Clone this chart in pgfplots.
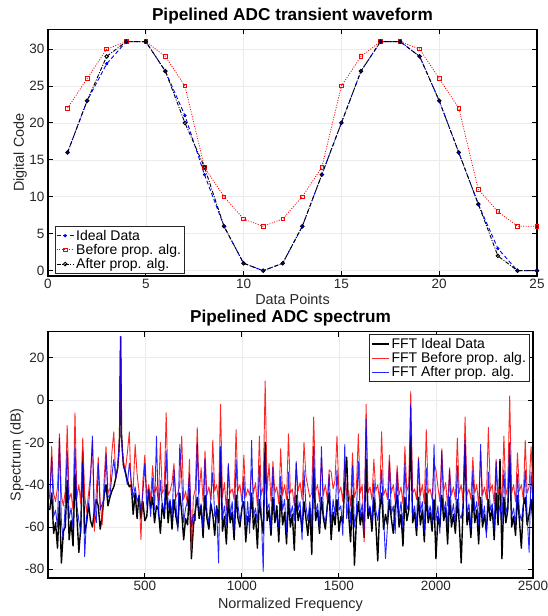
\documentclass[border=0pt]{standalone}
\usepackage{fontspec}
\setmainfont{Liberation Sans}
\usepackage{pgfplots}
\pgfplotsset{compat=1.18}
\usepackage{pgfplotstable}

\definecolor{axgray}{RGB}{38,38,38}

% transient waveform, 25 samples
\pgfplotstableread{
n ideal before after
1 16 22 16
2 23 26 23
3 28 30 29
4 31 31 31
5 31 31 31
6 27 29 27
7 21 25 20
8 13 14 14
9 6 10 6
10 1 7 1
11 0 6 0
12 1 7 1
13 6 10 6
14 13 14 13
15 20 25 20
16 27 29 27
17 31 31 31
18 31 31 31
19 29 30 29
20 23 26 23
21 16 22 16
22 9 11 9
23 3 8 2
24 0 6 0
25 0 6 0
}\wave

% spectrum (dB) at a coarse step
\pgfplotstableread{
x k r b
10 -52 -46 -47
20 -44 -22 -27
30 -63 -44 -55
40 -58 -48 -52
50 -70 -41 -60
60 -48 -16 -18
70 -77 -45 -58
80 -62 -50 -66
90 -60 -43 -49
100 -38 -12 -24
110 -66 -47 -56
120 -57 -44 -51
130 -69 -52 -61
140 -35 -6 -22
150 -55 -46 -50
160 -72 -40 -57
170 -60 -49 -63
180 -24 -18 -30
190 -63 -45 -74
200 -58 -53 -55
210 -49 -44 -50
220 -57 -35 -38
230 -60 -19 -17
240 -52 -62 -53
250 -47 -43 -58
260 -50 -27 -30
270 -61 -48 -52
280 -55 -59 -49
290 -45 -38 -47
300 -40 -22 -26
310 -50 -44 -46
320 -46 -42 -45
330 -43 -25 -36
340 -41 -15 -28
350 -37 -37 -37
360 -32 -32 -32
365 -26 -26 -26
370 -17 -17 -17
375 30 30 30
380 -17 -17 -17
385 -25 -25 -25
390 -31 -29 -31
400 -34 -33 -35
410 -38 -25 -40
420 -41 -15 -30
430 -40 -44 -38
440 -54 -42 -46
450 -44 -21 -41
460 -56 -35 -48
470 -45 -43 -45
480 -56 -66 -52
490 -48 -38 -44
500 -57 -26 -30
510 -55 -45 -50
520 -42 -40 -43
530 -51 -47 -55
540 -46 -31 -37
550 -58 -44 -52
560 -50 -41 -17
570 -52 -48 -55
580 -63 -20 -38
590 -49 -44 -50
600 -56 -42 -53
610 -40 -6 -24
620 -58 -45 -51
630 -48 -43 -47
640 -61 -39 -55
650 -47 -30 -33
660 -55 -46 -49
670 -60 -44 -62
680 -44 -40 -21
690 -53 -17 -37
700 -66 -47 -58
710 -56 -43 -51
720 -59 -50 -48
730 -42 -28 -35
740 -75 -71 -60
750 -60 -46 -54
760 -52 -42 -57
770 -46 -13 -20
780 -56 -44 -53
790 -50 -32 -49
800 -65 -48 -61
810 -45 -24 -28
820 -56 -45 -53
830 -61 -41 -58
840 -49 -47 -47
850 -54 -19 -34
860 -64 -43 -55
870 -50 -40 -51
880 -58 -49 -77
890 -24 -2 -22
900 -62 -46 -56
910 -55 -39 -50
920 -68 -52 -59
930 -47 -31 -30
940 -58 -44 -55
950 -53 -42 -48
960 -66 -47 -62
970 -45 -14 -28
980 -56 -43 -50
990 -60 -40 -57
1000 -51 -48 -52
1010 -48 -26 -36
1020 -67 -46 -60
1030 -55 -42 -48
1040 -58 -45 -63
1050 -44 -33 -19
1060 -61 -44 -55
1070 -54 -39 -51
1080 -70 -50 -58
1090 -47 -17 -31
1100 -56 -45 -54
1110 -63 -41 -81
1120 -20 9 -24
1130 -57 -43 -52
1140 -52 -30 -49
1150 -64 -48 -61
1160 -46 -29 -32
1170 -58 -44 -53
1180 -50 -41 -56
1190 -67 -49 -60
1200 -45 -23 -36
1210 -59 -45 -52
1220 -53 -40 -47
1230 -68 -47 -63
1240 -47 -16 -34
1250 -60 -44 -55
1260 -54 -42 -50
1270 -71 -50 -57
1280 -45 -30 -29
1290 -57 -43 -52
1300 -52 -39 -48
1310 -62 -47 -66
1320 -48 -20 -33
1330 -56 -36 -50
1340 -64 -41 -57
1350 -51 -46 -48
1360 -73 -44 -60
1370 -33 -8 -22
1380 -57 -43 -53
1390 -52 -40 -49
1400 -63 -48 -61
1410 -46 -27 -22
1420 -56 -45 -54
1430 -61 -40 -58
1440 -50 -47 -51
1450 -44 -33 -35
1460 -66 -34 -59
1470 -53 -42 -47
1480 -59 -38 -55
1490 -47 -17 -33
1500 -62 -44 -52
1510 -55 -41 -50
1520 -58 -48 -64
1530 -40 -29 -21
1540 -27 -45 -56
1550 -54 -43 -48
1560 -67 -50 -58
1570 -45 -25 -31
1580 -78 -46 -60
1590 -57 -42 -53
1600 -48 -16 -29
1610 -59 -44 -55
1620 -53 -40 -49
1630 -65 -67 -61
1640 -28 -2 -9
1650 -56 -44 -53
1660 -51 -41 -50
1670 -62 -47 -58
1680 -46 -28 -38
1690 -58 -43 -52
1700 -76 -40 -57
1710 -52 -48 -49
1720 -44 -15 -33
1730 -61 -45 -55
1740 -54 -42 -75
1750 -59 -47 -60
1760 -47 -26 -29
1770 -56 -44 -54
1780 -63 -40 -50
1790 -50 -48 -63
1800 -45 -31 -34
1810 -60 -45 -56
1820 -54 -41 -48
1830 -69 -49 -61
1840 -46 -22 -30
1850 -57 -43 -52
1860 -52 -40 -49
1870 -17 4 -2
1880 -58 -44 -55
1890 -53 -42 -50
1900 -64 -47 -60
1910 -46 -27 -28
1920 -59 -45 -53
1930 -52 -40 -48
1940 -67 -49 -62
1950 -44 -14 -32
1960 -58 -44 -55
1970 -53 -42 -50
1980 -62 -47 -58
1990 -47 -30 -21
2000 -75 -33 -57
2010 -55 -41 -50
2020 -60 -48 -63
2030 -45 -23 -24
2040 -57 -43 -53
2050 -51 -39 -48
2060 -68 -50 -60
2070 -46 -32 -33
2080 -60 -45 -55
2090 -54 -41 -49
2100 -63 -47 -59
2110 -47 -18 -31
2120 -58 -44 -54
2130 -77 -40 -56
2140 -50 -48 -50
2150 -21 -8 -19
2160 -59 -45 -55
2170 -53 -42 -49
2180 -65 -47 -61
2190 -45 -27 -33
2200 -58 -44 -53
2210 -52 -40 -48
2220 -68 -50 -59
2230 -46 -24 -21
2240 -60 -45 -56
2250 -54 -41 -50
2260 -62 -47 -65
2270 -47 -13 -34
2280 -57 -43 -52
2290 -51 -40 -49
2300 -66 -49 -61
2310 -44 -28 -29
2320 -59 -44 -55
2330 -28 -42 -50
2340 -75 -47 -58
2350 -46 -17 -33
2360 -58 -45 -54
2370 -52 -41 -49
2380 -26 2 -20
2390 -60 -44 -55
2400 -55 -40 -51
2410 -64 -48 -60
2420 -45 -25 -35
2430 -57 -43 -53
2440 -70 -40 -57
2450 -50 -47 -50
2460 -46 -19 -33
2470 -59 -44 -55
2480 -54 -41 -72
2490 -47 -22 -34
2500 -58 -42 -48
}\spectrum

\pgfplotsset{
  matstyle/.style={
    scale only axis,
    axis line style={line width=1.4pt, black},
    tick align=inside,
    major tick length=5pt,
    every tick/.style={black, line width=0.9pt},
    tick label style={font=\fontsize{13.5}{15}\selectfont, text=axgray},
    label style={font=\fontsize{14.4}{16}\selectfont, text=axgray},
    title style={font=\bfseries\fontsize{17.2}{19}\selectfont,
      at={(axis description cs:0.5,1)}, anchor=south, yshift=-4pt},
    grid=major,
    major grid style={black!8, line width=0.6pt},
    scaled ticks=false,
    /pgf/number format/assume math mode=true,
    /pgf/number format/1000 sep={},
    legend cell align=left,
    legend style={font=\fontsize{14}{16}\selectfont, draw=none,
      inner sep=1pt, row sep=-1.5pt, fill=white},
  }
}

\begin{document}
\begin{tikzpicture}
\path[use as bounding box] (0,0) rectangle (547pt,616pt);

\begin{axis}[matstyle,
  at={(48pt,340pt)}, anchor=south west,
  width=489pt, height=246.7pt,
  xmin=0, xmax=25, ymin=-0.72, ymax=32.67,
  xtick={0,5,...,25}, ytick={0,5,...,30},
  title={Pipelined ADC transient waveform},
  xlabel={Data Points}, ylabel={Digital Code},
  xlabel style={at={(axis description cs:0.5,-0.093)}, anchor=center},
  ylabel style={at={(axis description cs:-0.057,0.5)}, anchor=center},
  legend style={name=legA, at={(axis description cs:0.0143,0.012)}, anchor=south west},
]
\addplot[color=blue, line width=0.9pt, dash pattern=on 4pt off 2.5pt,
  mark=*, mark size=1.2pt, mark options={solid, draw=blue, fill=blue}] table[x=n,y=ideal]{\wave};
\addplot[color=red, line width=0.8pt, dash pattern=on 1pt off 1.5pt,
  mark=square, mark size=1.8pt, mark options={solid, draw=red, line width=0.8pt}] table[x=n,y=before]{\wave};
\addplot[color=black, line width=0.9pt, dash pattern=on 4pt off 1.5pt on 1pt off 1.5pt,
  mark=o, mark size=1.8pt, mark options={solid, draw=black, line width=0.9pt}] table[x=n,y=after]{\wave};
\legend{Ideal Data, Before prop. alg., After prop. alg.}
\end{axis}
\draw[axgray, line width=0.9pt] (legA.south west) rectangle (legA.north east);

\begin{axis}[matstyle,
  at={(48pt,38pt)}, anchor=south west,
  width=485pt, height=246.3pt,
  xmin=1, xmax=2500, ymin=-84.1, ymax=32.3,
  xtick={500,1000,...,2500}, ytick={-80,-60,...,20},
  title={Pipelined ADC spectrum},
  xlabel={Normalized Frequency}, ylabel={Spectrum (dB)},
  xlabel style={at={(axis description cs:0.5,-0.11)}, anchor=center},
  ylabel style={at={(axis description cs:-0.064,0.5)}, anchor=center},
  legend style={name=legB, at={(axis description cs:0.992,0.987)}, anchor=north east},
]
\addplot[black, line width=1.4pt, line join=round] table[x=x,y=k]{\spectrum};
\addplot[red, line width=0.9pt, opacity=0.85, line join=round] table[x=x,y=r]{\spectrum};
\addplot[blue, line width=0.9pt, opacity=0.85, line join=round] table[x=x,y=b]{\spectrum};
\legend{FFT Ideal Data, FFT Before prop. alg., FFT After prop. alg.}
\end{axis}
\draw[axgray, line width=0.9pt] (legB.south west) rectangle (legB.north east);
\end{tikzpicture}
\end{document}
